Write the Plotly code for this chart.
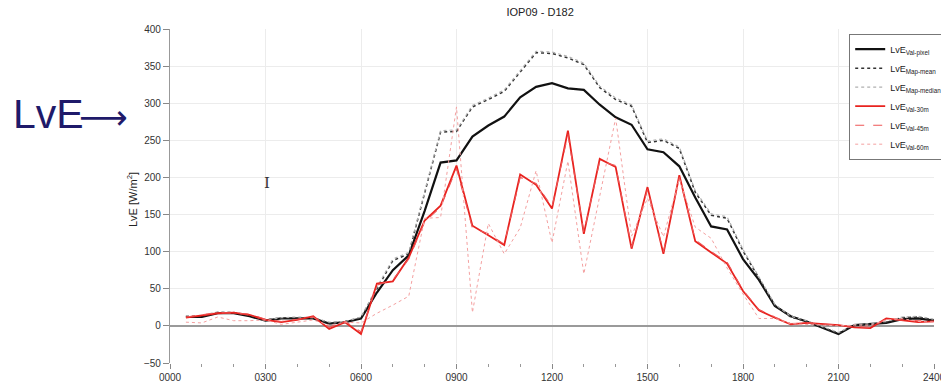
import plotly.graph_objects as go

# time in hours (half-hourly values 00:30 .. 24:00)
hours = [0.5, 1, 1.5, 2, 2.5, 3, 3.5, 4, 4.5, 5, 5.5, 6, 6.5, 7, 7.5, 8, 8.5, 9, 9.5, 10,
         10.5, 11, 11.5, 12, 12.5, 13, 13.5, 14, 14.5, 15, 15.5, 16, 16.5, 17, 17.5, 18,
         18.5, 19, 19.5, 20, 20.5, 21, 21.5, 22, 22.5, 23, 23.5, 24]

lve_val_pixel = [12, 12, 17, 17, 13, 7, 10, 10, 10, 3, 5, 10, 45, 75, 95, 155, 220, 223, 255, 270,
                 282, 308, 322, 327, 320, 318, 298, 281, 271, 238, 234, 215, 173, 134, 130, 90,
                 62, 27, 13, 6, -2, -11, 1, 2, 4, 9, 10, 7]

lve_map_mean = [13, 13, 18, 18, 14, 8, 11, 11, 11, 4, 6, 11, 50, 88, 97, 178, 261, 262, 295, 305,
                316, 342, 368, 367, 361, 352, 321, 305, 296, 247, 250, 239, 180, 149, 145, 101,
                65, 28, 12, 6, -2, -10, 1, 2, 5, 11, 12, 8]

lve_map_median = [14, 14, 19, 18, 15, 8, 11, 12, 11, 5, 6, 12, 52, 90, 99, 180, 263, 264, 297, 307,
                  318, 344, 370, 369, 363, 354, 323, 307, 298, 249, 252, 241, 182, 151, 147, 103,
                  66, 29, 13, 7, -1, -9, 2, 3, 6, 12, 13, 9]

lve_val_30m = [11, 14, 17, 18, 15, 8, 5, 8, 13, -4, 5, -11, 57, 60, 92, 142, 162, 216, 135, 122,
               109, 204, 190, 158, 263, 124, 225, 214, 104, 187, 97, 203, 114, 99, 84, 47,
               21, 11, 2, 4, 3, 1, -2, -3, 10, 8, 5, 6]

lve_val_45m = [12, 15, 18, 17, 16, 9, 6, 9, 12, -2, 6, -8, 55, 62, 90, 140, 160, 212, 132, 124,
               110, 200, 192, 160, 258, 126, 222, 216, 106, 184, 100, 200, 116, 100, 86, 48,
               22, 12, 3, 4, 3, 1, -1, -2, 9, 8, 6, 6]

lve_val_60m = [5, 4, 12, 7, 7, 8, 2, 5, 8, 1, 5, 4, 17, 28, 40, 145, 146, 295, 18, 138,
               97, 132, 209, 112, 222, 70, 175, 280, 121, 172, 120, 198, 133, 118, 78, 43,
               10, 10, 3, 2, 1, 0, 1, 1, 8, 10, 6, 5]

tick_hours = [0, 3, 6, 9, 12, 15, 18, 21, 24]
tick_labels = ["0000", "0300", "0600", "0900", "1200", "1500", "1800", "2100", "2400"]

FONT = "Liberation Sans, Arial, sans-serif"

series = [
    ("LvE<sub>Val-pixel</sub>", lve_val_pixel, dict(color="#111111", width=2.2, dash="solid")),
    ("LvE<sub>Map-mean</sub>", lve_map_mean, dict(color="#333333", width=1.5, dash="dot")),
    ("LvE<sub>Map-median</sub>", lve_map_median, dict(color="#b0b0b0", width=1.2, dash="dot")),
    ("LvE<sub>Val-30m</sub>", lve_val_30m, dict(color="#e8231f", width=1.8, dash="solid")),
    ("LvE<sub>Val-45m</sub>", lve_val_45m, dict(color="#ee5555", width=1.1, dash="dash")),
    ("LvE<sub>Val-60m</sub>", lve_val_60m, dict(color="#f4a0a0", width=1.0, dash="dot")),
]

fig = go.Figure()
for name, vals, line in series:
    fig.add_trace(go.Scatter(x=hours, y=vals, mode="lines", name=name, line=line))

fig.update_layout(
    width=941, height=388,
    margin=dict(l=170, r=7, t=29, b=25, autoexpand=False),
    paper_bgcolor="white", plot_bgcolor="white",
    font=dict(family=FONT, size=10, color="#333333"),
    title=dict(text="IOP09 - D182", x=0.574, xanchor="center", y=0.968, yanchor="middle",
               font=dict(size=11, color="#222222")),
    showlegend=True,
    legend=dict(x=0.889, y=0.986, xanchor="left", yanchor="top",
                bgcolor="white", bordercolor="#777777", borderwidth=1,
                font=dict(size=9, color="#222222"), tracegroupgap=0,
                itemwidth=30),
    xaxis=dict(range=[0, 24], tickvals=tick_hours, ticktext=tick_labels,
               showgrid=True, gridcolor="#ececec", gridwidth=1,
               ticks="outside", ticklen=5, tickcolor="#888888",
               minor=dict(dtick=1, ticks="outside", ticklen=3, tickcolor="#999999", showgrid=False),
               showline=False, zeroline=False, ticklabeloverflow="allow",
               tickfont=dict(size=10, color="#333333")),
    xaxis2=dict(range=[0, 24], tickvals=tick_hours, overlaying="x", side="top", anchor="y",
                showticklabels=False, showgrid=False, ticks="outside", ticklen=5,
                tickcolor="#999999", showline=True, linecolor="#aaaaaa", linewidth=1.5,
                zeroline=False),
    yaxis=dict(range=[-50, 400], dtick=50, showgrid=True, gridcolor="#ececec",
               ticks="outside", ticklen=6, tickcolor="#888888",
               showline=True, linecolor="#999999", linewidth=1.2,
               zeroline=True, zerolinecolor="#9a9a9a", zerolinewidth=1.6,
               tickfont=dict(size=10, color="#333333")),
)

fig.add_annotation(text="LvE [W/m<sup>2</sup>]", xref="paper", yref="paper",
                   x=(132 - 170) / 764, y=(363 - 200) / 334, xanchor="center", yanchor="middle",
                   textangle=-90, showarrow=False,
                   font=dict(size=11, color="#222222"))

fig.add_annotation(text="LvE", xref="paper", yref="paper",
                   x=(48 - 170) / 764, y=(363 - 114) / 334, xanchor="center", yanchor="middle",
                   showarrow=False,
                   font=dict(size=41, color="#1f1a6a", family=FONT))

fig.add_annotation(text="\u27f6", xref="paper", yref="paper",
                   x=(103 - 170) / 764, y=(363 - 117) / 334, xanchor="center", yanchor="middle",
                   showarrow=False,
                   font=dict(size=34, color="#1f1a6a", family="DejaVu Sans"))

fig.add_annotation(text="I", xref="paper", yref="paper",
                   x=(267 - 170) / 764, y=(363 - 183) / 334, xanchor="center", yanchor="middle",
                   showarrow=False, font=dict(size=15, color="#333333", family="DejaVu Serif"))

fig.write_html("out.html", config={"displayModeBar": False},
               post_script="document.body.style.margin='0';document.body.style.padding='0';")
